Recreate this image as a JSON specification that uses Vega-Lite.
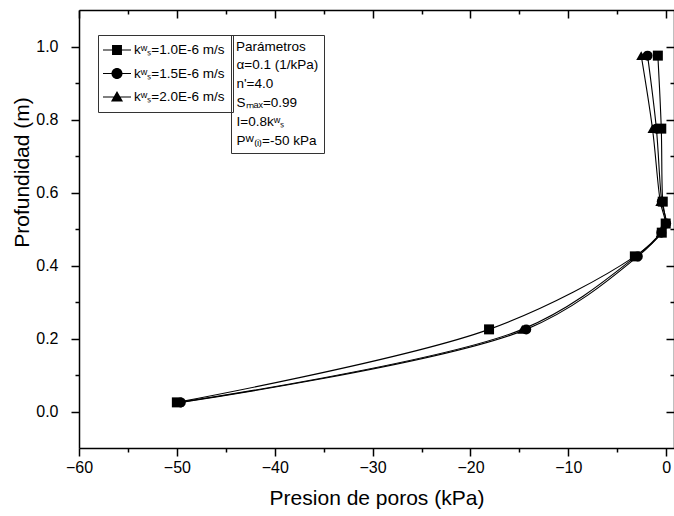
{
  "$schema": "https://vega.github.io/schema/vega-lite/v6.json",
  "width": 595,
  "height": 438,
  "autosize": "none",
  "padding": {"left": 79, "top": 10, "right": 0, "bottom": 68},
  "background": "white",
  "config": {
    "view": {"stroke": null},
    "font": "Liberation Sans",
    "axis": {
      "domainColor": "black", "domainWidth": 1.5, "tickColor": "black", "tickWidth": 1.5,
      "labelColor": "black", "titleColor": "black", "labelFont": "Liberation Sans", "titleFont": "Liberation Sans",
      "labelFontSize": 16, "titleFontSize": 21, "titleFontWeight": "normal", "grid": false,
      "labelFlush": false, "labelOverlap": false
    },
    "legend": {"labelFont": "Liberation Sans", "titleFont": "Liberation Sans", "labelColor": "black", "titleColor": "black"}
  },
  "datasets": {
    "main": [
      {"serie": "kʷₛ=1.0E-6 m/s", "presion": -50.0, "profundidad": 0.025},
      {"serie": "kʷₛ=1.0E-6 m/s", "presion": -18.1, "profundidad": 0.225},
      {"serie": "kʷₛ=1.0E-6 m/s", "presion": -3.2, "profundidad": 0.425},
      {"serie": "kʷₛ=1.0E-6 m/s", "presion": -0.45, "profundidad": 0.49},
      {"serie": "kʷₛ=1.0E-6 m/s", "presion": -0.05, "profundidad": 0.515},
      {"serie": "kʷₛ=1.0E-6 m/s", "presion": -0.35, "profundidad": 0.575},
      {"serie": "kʷₛ=1.0E-6 m/s", "presion": -0.5, "profundidad": 0.775},
      {"serie": "kʷₛ=1.0E-6 m/s", "presion": -0.85, "profundidad": 0.975},
      {"serie": "kʷₛ=1.5E-6 m/s", "presion": -49.6, "profundidad": 0.025},
      {"serie": "kʷₛ=1.5E-6 m/s", "presion": -14.3, "profundidad": 0.225},
      {"serie": "kʷₛ=1.5E-6 m/s", "presion": -2.9, "profundidad": 0.425},
      {"serie": "kʷₛ=1.5E-6 m/s", "presion": -0.5, "profundidad": 0.49},
      {"serie": "kʷₛ=1.5E-6 m/s", "presion": 0.0, "profundidad": 0.515},
      {"serie": "kʷₛ=1.5E-6 m/s", "presion": -0.45, "profundidad": 0.575},
      {"serie": "kʷₛ=1.5E-6 m/s", "presion": -1.0, "profundidad": 0.775},
      {"serie": "kʷₛ=1.5E-6 m/s", "presion": -1.9, "profundidad": 0.975},
      {"serie": "kʷₛ=2.0E-6 m/s", "presion": -49.8, "profundidad": 0.025},
      {"serie": "kʷₛ=2.0E-6 m/s", "presion": -14.7, "profundidad": 0.225},
      {"serie": "kʷₛ=2.0E-6 m/s", "presion": -3.1, "profundidad": 0.425},
      {"serie": "kʷₛ=2.0E-6 m/s", "presion": -0.55, "profundidad": 0.49},
      {"serie": "kʷₛ=2.0E-6 m/s", "presion": -0.1, "profundidad": 0.515},
      {"serie": "kʷₛ=2.0E-6 m/s", "presion": -0.6, "profundidad": 0.575},
      {"serie": "kʷₛ=2.0E-6 m/s", "presion": -1.4, "profundidad": 0.775},
      {"serie": "kʷₛ=2.0E-6 m/s", "presion": -2.55, "profundidad": 0.975}
    ],
    "params": [
      {"param": "α=0.1 (1/kPa)"},
      {"param": "n'=4.0"},
      {"param": "Sₘₐₓ=0.99"},
      {"param": "I=0.8kʷₛ"},
      {"param": "Pᵂ₍ᵢ₎=-50 kPa"}
    ]
  },
  "resolve": {"axis": {"x": "independent", "y": "independent"}, "scale": {"shape": "independent"}},
  "layer": [
    {
      "data": {"name": "main"},
      "mark": {"type": "line", "interpolate": "catmull-rom", "color": "black", "strokeWidth": 1.1},
      "encoding": {
        "x": {"field": "presion", "type": "quantitative",
          "scale": {"domain": [-60, 0.8], "nice": false, "zero": false},
          "axis": {"orient": "bottom", "values": [-60, -50, -40, -30, -20, -10, 0], "format": "d", "tickSize": 8, "labelPadding": 3, "title": "Presion de poros (kPa)", "titlePadding": 12}},
        "y": {"field": "profundidad", "type": "quantitative",
          "scale": {"domain": [-0.1, 1.1], "nice": false, "zero": false},
          "axis": {"orient": "left", "values": [0, 0.2, 0.4, 0.6, 0.8, 1.0], "format": ".1f", "tickSize": 8, "labelPadding": 13, "title": "Profundidad (m)", "titlePadding": 3, "titleY": 162}},
        "detail": {"field": "serie"},
        "order": {"field": "profundidad"}
      }
    },
    {
      "data": {"name": "main"},
      "mark": {"type": "point", "filled": true, "color": "black", "opacity": 1, "size": 100},
      "encoding": {
        "x": {"field": "presion", "type": "quantitative",
          "axis": {"orient": "bottom", "values": [-55, -45, -35, -25, -15, -5], "tickSize": 4, "labels": false, "domain": false, "title": null}},
        "y": {"field": "profundidad", "type": "quantitative",
          "axis": {"orient": "left", "values": [0.1, 0.3, 0.5, 0.7, 0.9], "tickSize": 4, "labels": false, "domain": false, "title": null}},
        "shape": {"field": "serie", "type": "nominal",
          "scale": {"domain": ["kʷₛ=1.0E-6 m/s", "kʷₛ=1.5E-6 m/s", "kʷₛ=2.0E-6 m/s"], "range": ["square", "circle", "triangle-up"]},
          "legend": null}
      }
    },
    {
      "data": {"name": "main"},
      "transform": [{"filter": "datum.profundidad > 5"}],
      "mark": {"type": "point", "filled": true, "color": "black", "size": 196},
      "encoding": {
        "x": {"field": "presion", "type": "quantitative",
          "axis": {"orient": "top", "values": [-60, -50, -40, -30, -20, -10, 0], "tickSize": -8, "labels": false, "title": null}},
        "y": {"field": "profundidad", "type": "quantitative",
          "axis": {"orient": "right", "values": [0, 0.2, 0.4, 0.6, 0.8, 1.0], "tickSize": -8, "labels": false, "title": null}},
        "shape": {"field": "serie", "type": "nominal",
          "scale": {"domain": ["kʷₛ=1.0E-6 m/s", "kʷₛ=1.5E-6 m/s", "kʷₛ=2.0E-6 m/s"],
            "range": [
              "M-2,-0.08H2V0.08H-2ZM-0.71,-0.71H0.71V0.71H-0.71Z",
              "M-2,-0.08H2V0.08H-2ZM0.79,0A0.79,0.79 0 1,1 -0.79,0A0.79,0.79 0 1,1 0.79,0Z",
              "M-2,-0.08H2V0.08H-2ZM0,-0.86L0.86,0.64H-0.86Z"
            ]},
          "legend": {"title": null, "orient": "none", "legendX": 19, "legendY": 25, "strokeColor": "#333", "padding": 8,
            "symbolSize": 196, "symbolOffset": 4, "symbolFillColor": "black", "symbolStrokeWidth": 0, "symbolOpacity": 1,
            "labelFontSize": 13.5, "labelOffset": 10, "rowPadding": 9.5}}
      }
    },
    {
      "data": {"name": "main"},
      "transform": [{"filter": "datum.profundidad > 5"}],
      "mark": {"type": "point", "filled": true, "color": "black"},
      "encoding": {
        "x": {"field": "presion", "type": "quantitative",
          "axis": {"orient": "top", "values": [-55, -45, -35, -25, -15, -5], "tickSize": -4, "labels": false, "domain": false, "title": null}},
        "y": {"field": "profundidad", "type": "quantitative",
          "axis": {"orient": "right", "values": [0.1, 0.3, 0.5, 0.7, 0.9], "tickSize": -4, "labels": false, "domain": false, "title": null}}
      }
    },
    {
      "data": {"name": "params"},
      "transform": [{"filter": "datum.param == 'none'"}],
      "mark": {"type": "point", "filled": true},
      "encoding": {
        "fill": {"field": "param", "type": "nominal",
          "scale": {"domain": ["α=0.1 (1/kPa)", "n'=4.0", "Sₘₐₓ=0.99", "I=0.8kʷₛ", "Pᵂ₍ᵢ₎=-50 kPa"], "range": ["black", "black", "black", "black", "black"]},
          "legend": {"title": "Parámetros", "orient": "none", "legendX": 152, "legendY": 25, "strokeColor": "#333", "padding": 5,
            "titleFontSize": 13.5, "titleFontWeight": "normal", "titlePadding": 5,
            "symbolSize": 0, "symbolOpacity": 0, "symbolStrokeWidth": 0, "labelOffset": -13, "labelFontSize": 13.5, "rowPadding": 4}}
      }
    }
  ]
}
